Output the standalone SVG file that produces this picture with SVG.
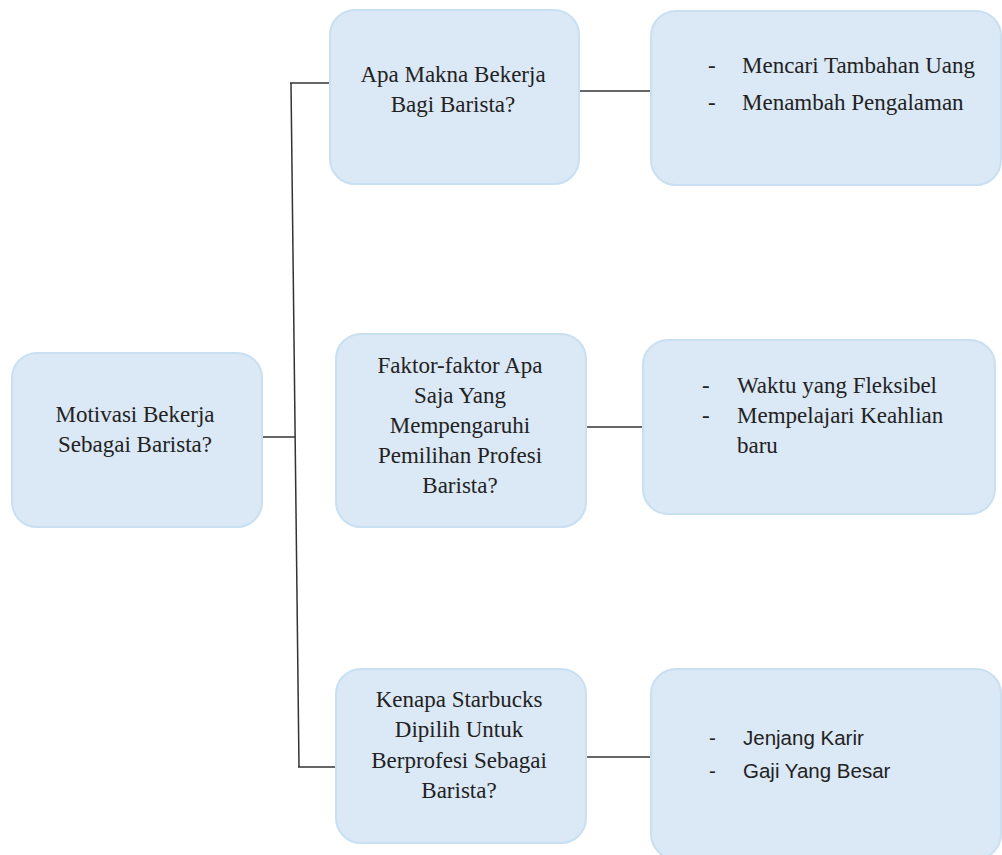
<svg xmlns="http://www.w3.org/2000/svg" width="1002" height="855" viewBox="0 0 1002 855">
<style>
.box{fill:#dbe8f5;stroke:#c8e0f2;stroke-width:2}
.t{font-family:"Liberation Serif","Times New Roman",serif;font-size:23px;fill:#222}
.c{text-anchor:middle}
.s{font-family:"Liberation Sans",Arial,sans-serif;font-size:20.5px;fill:#222}
.ln{stroke:#333;stroke-width:1.5;fill:none}
</style>
<rect width="1002" height="855" fill="#ffffff"/>
<g id="connectors">
<line class="ln" x1="262" y1="437" x2="295" y2="437"/>
<line class="ln" x1="291" y1="83" x2="299" y2="767"/>
<line class="ln" x1="290" y1="83" x2="331" y2="83"/>
<line class="ln" x1="298" y1="767" x2="340" y2="767"/>
<line class="ln" x1="579" y1="91" x2="651" y2="91"/>
<line class="ln" x1="586" y1="427" x2="643" y2="427"/>
<line class="ln" x1="586" y1="757" x2="651" y2="757"/>
</g>
<g id="root">
<rect class="box" x="12" y="353" width="250" height="174" rx="25"/>
<text class="t c" x="135" y="422">Motivasi Bekerja</text>
<text class="t c" x="135" y="452">Sebagai Barista?</text>
</g>
<g id="q1">
<rect class="box" x="330" y="10" width="249" height="174" rx="25"/>
<text class="t c" x="453" y="82">Apa Makna Bekerja</text>
<text class="t c" x="453" y="112">Bagi Barista?</text>
</g>
<g id="a1">
<rect class="box" x="651" y="11" width="350" height="174" rx="25"/>
<text class="t" x="708" y="73">-</text>
<text class="t" x="742" y="73">Mencari Tambahan Uang</text>
<text class="t" x="708" y="110">-</text>
<text class="t" x="742" y="110">Menambah Pengalaman</text>
</g>
<g id="q2">
<rect class="box" x="336" y="334" width="250" height="193" rx="25"/>
<text class="t c" x="460" y="373">Faktor-faktor Apa</text>
<text class="t c" x="460" y="403">Saja Yang</text>
<text class="t c" x="460" y="433">Mempengaruhi</text>
<text class="t c" x="460" y="463">Pemilihan Profesi</text>
<text class="t c" x="460" y="493">Barista?</text>
</g>
<g id="a2">
<rect class="box" x="643" y="340" width="352" height="174" rx="25"/>
<text class="t" x="702" y="393">-</text>
<text class="t" x="737" y="393">Waktu yang Fleksibel</text>
<text class="t" x="702" y="423">-</text>
<text class="t" x="737" y="423">Mempelajari Keahlian</text>
<text class="t" x="737" y="453">baru</text>
</g>
<g id="q3">
<rect class="box" x="336" y="669" width="250" height="174" rx="25"/>
<text class="t c" x="459" y="707">Kenapa Starbucks</text>
<text class="t c" x="459" y="737">Dipilih Untuk</text>
<text class="t c" x="459" y="768">Berprofesi Sebagai</text>
<text class="t c" x="459" y="798">Barista?</text>
</g>
<g id="a3">
<rect class="box" x="651" y="669" width="350" height="190" rx="25"/>
<text class="s" x="709" y="745">-</text>
<text class="s" x="743" y="745">Jenjang Karir</text>
<text class="s" x="709" y="778">-</text>
<text class="s" x="743" y="778">Gaji Yang Besar</text>
</g>
</svg>
